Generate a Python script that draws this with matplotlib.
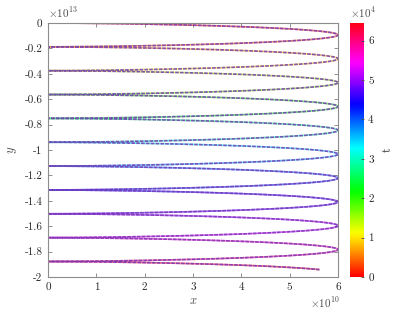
import numpy as np
import matplotlib
matplotlib.use("Agg")
import matplotlib.pyplot as plt
from matplotlib.collections import LineCollection

plt.rcParams['font.family'] = 'cmr10'
plt.rcParams['mathtext.fontset'] = 'cm'
plt.rcParams['axes.unicode_minus'] = False

# trajectory parameters
x_max = 6.0e10          # right turning points touch x = 6e10
y_period = 0.1878e13    # vertical spacing of the left cusps
phi_end = 10 * 2 * np.pi + 2.63   # stops short of the 11th right tip
t_max = 6.45e4          # top of the colour bar

x_ticks = [0, 1e10, 2e10, 3e10, 4e10, 5e10, 6e10]
x_tick_labels = ['0', '1', '2', '3', '4', '5', '6']
y_ticks = [0, -0.2e13, -0.4e13, -0.6e13, -0.8e13, -1.0e13, -1.2e13,
           -1.4e13, -1.6e13, -1.8e13, -2.0e13]
y_tick_labels = ['0', '-0.2', '-0.4', '-0.6', '-0.8', '-1', '-1.2',
                 '-1.4', '-1.6', '-1.8', '-2']
cb_ticks = [0, 1e4, 2e4, 3e4, 4e4, 5e4, 6e4]
cb_tick_labels = ['0', '1', '2', '3', '4', '5', '6']

phi = np.linspace(0, phi_end, 6000)
a = x_max / 2
b = y_period / (2 * np.pi)
x = a * (1 - np.cos(phi))
y = -b * (phi - np.sin(phi))
t = t_max * phi / phi_end

fig = plt.figure(figsize=(4.15, 3.12), dpi=100)
ax = fig.add_axes([0.1157, 0.1122, 0.6988, 0.8141])
cax = fig.add_axes([0.8434, 0.1122, 0.0337, 0.8141])

pts = np.column_stack([x, y]).reshape(-1, 1, 2)
segs = np.concatenate([pts[:-1], pts[1:]], axis=1)
lc = LineCollection(segs, cmap='hsv', linewidths=1.2, alpha=0.6)
lc.set_array(t[:-1])
lc.set_clim(0, t_max)
ax.add_collection(lc)
ax.plot(x, y, color=(0.45, 0.22, 0.70), lw=1.2, dashes=(2.2, 0.7), alpha=0.85)

ax.set_xlim(0, 6e10)
ax.set_ylim(-2e13, 0)
ax.set_xticks(x_ticks)
ax.set_xticklabels(x_tick_labels)
ax.set_yticks(y_ticks)
ax.set_yticklabels(y_tick_labels)
ax.tick_params(direction='in', length=3, width=0.6, labelsize=8,
               colors='0.5', labelcolor='0.15', top=True, right=True, pad=4)
for s in ax.spines.values():
    s.set_color('0.55')
    s.set_linewidth(0.8)

ax.set_xlabel('$x$', fontsize=9, color='0.3', labelpad=2)
ax.set_ylabel('$y$', fontsize=9, color='0.3', labelpad=4)
ax.text(0.0, 1.01, r'$\times10^{13}$', transform=ax.transAxes, fontsize=8,
        color='0.3', ha='left', va='bottom')
ax.text(0.903, -0.1, r'$\times10^{10}$', transform=ax.transAxes, fontsize=8,
        color='0.3', ha='left', va='center')

cb = fig.colorbar(lc, cax=cax)
cb.solids.set_alpha(1)
cb.set_ticks(cb_ticks)
cb.set_ticklabels(cb_tick_labels)
cb.outline.set_visible(False)
cax.tick_params(direction='in', length=2, width=0.6, labelsize=8,
                colors='0.3', labelcolor='0.15', pad=3)
cb.set_label('t', fontsize=9, color='0.2', rotation=90, labelpad=6)
cax.text(0.0, 1.01, r'$\times10^{4}$', transform=cax.transAxes, fontsize=8,
         color='0.3', ha='left', va='bottom')

fig.savefig('out.png', dpi=100)
